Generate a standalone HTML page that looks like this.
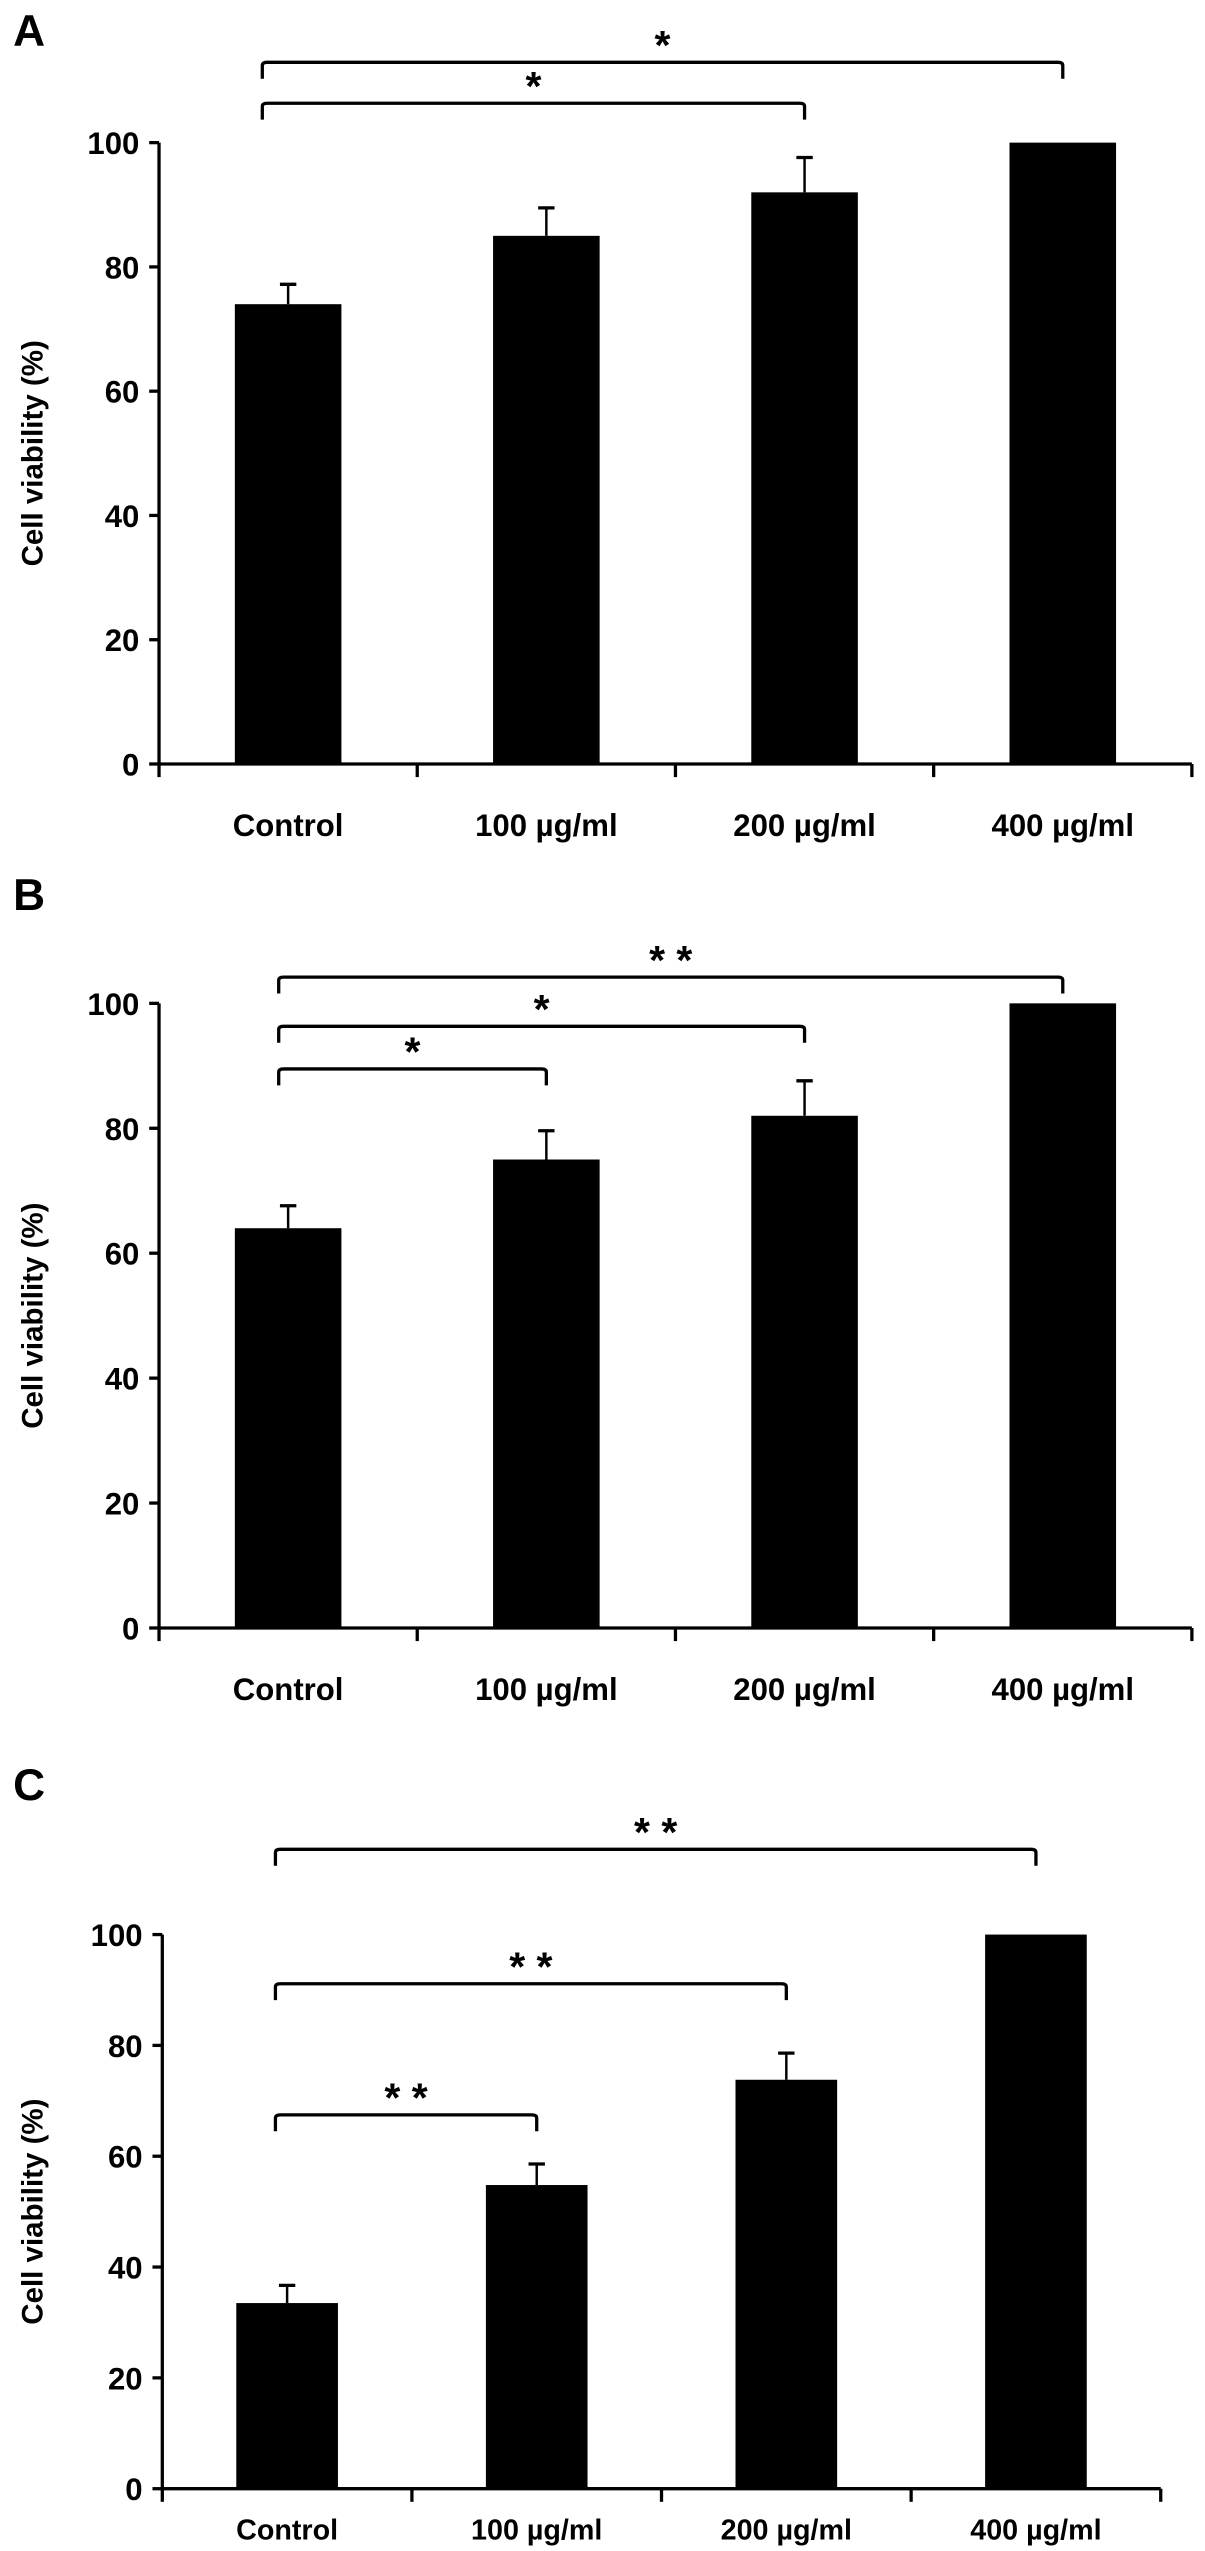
<!DOCTYPE html>
<html><head><meta charset="utf-8">
<style>
html,body{margin:0;padding:0;background:#fff;}
svg{display:block;}
text{font-family:"Liberation Sans",Arial,sans-serif;font-weight:bold;fill:#000;}
</style></head>
<body>
<svg id="fig" width="1205" height="2551" viewBox="0 0 735 1556" preserveAspectRatio="none" xmlns="http://www.w3.org/2000/svg"></svg>
<script>
const categories = ["Control","100 µg/ml","200 µg/ml","400 µg/ml"];
const yTicks = [0,20,40,60,80,100];
const valuesA = [74, 85, 92, 100];
const errorsA = [3.2, 4.5, 5.6, 0];
const valuesB = [64, 75, 82, 100];
const errorsB = [3.6, 4.6, 5.6, 0];
const valuesC = [33.5, 54.8, 73.8, 100];
const errorsC = [3.2, 3.8, 4.8, 0];
const sigA = [[0,3,"*"],[0,2,"*"]];
const sigB = [[0,3,"* *"],[0,2,"*"],[0,1,"*"]];
const sigC = [[0,3,"* *"],[0,2,"* *"],[0,1,"* *"]];

const NS="http://www.w3.org/2000/svg";
const svg=document.getElementById('fig');
function mk(tag,attrs,parent){const e=document.createElementNS(NS,tag);for(const k in attrs)e.setAttribute(k,attrs[k]);(parent||svg).appendChild(e);return e;}

const panels=[
 {letter:"A",ly:28,vals:valuesA,errs:errorsA,sig:sigA,x0:97,x1:727,bw:65,y0:466,y100:87,labY:510,brY:[38,63],brX0:160,fs:19},
 {letter:"B",ly:555,vals:valuesB,errs:errorsB,sig:sigB,x0:97,x1:727,bw:65,y0:993,y100:612,labY:1037,brY:[596,626,652],brX0:170,fs:19},
 {letter:"C",ly:1098,vals:valuesC,errs:errorsC,sig:sigC,x0:99,x1:708,bw:62,y0:1518,y100:1180,labY:1549,brY:[1128,1210,1290],brX0:168,fs:17.5}
];

panels.forEach((p,pi)=>{
  const g=mk('g',{});
  
  
  const step=(p.x1-p.x0)/categories.length;
  const xc=i=>p.x0+step*(i+0.5);
  const y=v=>p.y0-(v/100)*(p.y0-p.y100);
  const L=mk('text',{x:8,y:p.ly,'font-size':27},g);L.textContent=p.letter;
  
  
  const ya=mk('line',{x1:p.x0,y1:p.y0,x2:p.x0,y2:p.y100,stroke:'#000','stroke-width':2},g);
  
  
  yTicks.forEach(t=>{
    mk('line',{x1:p.x0-6,y1:y(t),x2:p.x0,y2:y(t),stroke:'#000','stroke-width':2},g);
    const tx=mk('text',{x:p.x0-12,y:y(t)+7,'font-size':19,'text-anchor':'end'},g);tx.textContent=t;
    
    
  });
  const yt=mk('text',{x:0,y:0,'font-size':18,'text-anchor':'middle',transform:`translate(26,${(p.y0+p.y100)/2}) rotate(-90)`},g);
  yt.textContent="Cell viability (%)";
  
  
  const xa=mk('line',{x1:p.x0,y1:p.y0,x2:p.x1,y2:p.y0,stroke:'#000','stroke-width':2},g);
  
  
  for(let i=0;i<=categories.length;i++){
    mk('line',{x1:p.x0+step*i,y1:p.y0,x2:p.x0+step*i,y2:p.y0+8,stroke:'#000','stroke-width':2},g);
  }
  categories.forEach((c,i)=>{
    const v=p.vals[i],e=p.errs[i];
    if(e>0){
      const el=mk('line',{x1:xc(i),y1:y(v),x2:xc(i),y2:y(v+e),stroke:'#000','stroke-width':1.5},g);
      
      
      mk('line',{x1:xc(i)-5,y1:y(v+e),x2:xc(i)+5,y2:y(v+e),stroke:'#000','stroke-width':2},g);
    }
    const b=mk('rect',{x:xc(i)-p.bw/2,y:y(v),width:p.bw,height:y(0)-y(v),fill:'#000'},g);
    
    
    const lt=mk('text',{x:xc(i),y:p.labY,'font-size':p.fs,'text-anchor':'middle'},g);lt.textContent=c;
    
    
  });
  p.sig.forEach((s,k)=>{
    const by=p.brY[k];
    const xa0=p.brX0, xa1=xc(s[1]);
    const path=mk('path',{d:`M${xa0},${by+10} L${xa0},${by+2} Q${xa0},${by} ${xa0+3},${by} L${xa1-3},${by} Q${xa1},${by} ${xa1},${by+2} L${xa1},${by+10}`,fill:'none',stroke:'#000','stroke-width':2},g);
    
    
    const st=mk('text',{x:(xa0+xa1)/2,y:by-2,'font-size':25,'text-anchor':'middle'},g);st.textContent=s[2];
    
    
  });
});
</script>
</body></html>
